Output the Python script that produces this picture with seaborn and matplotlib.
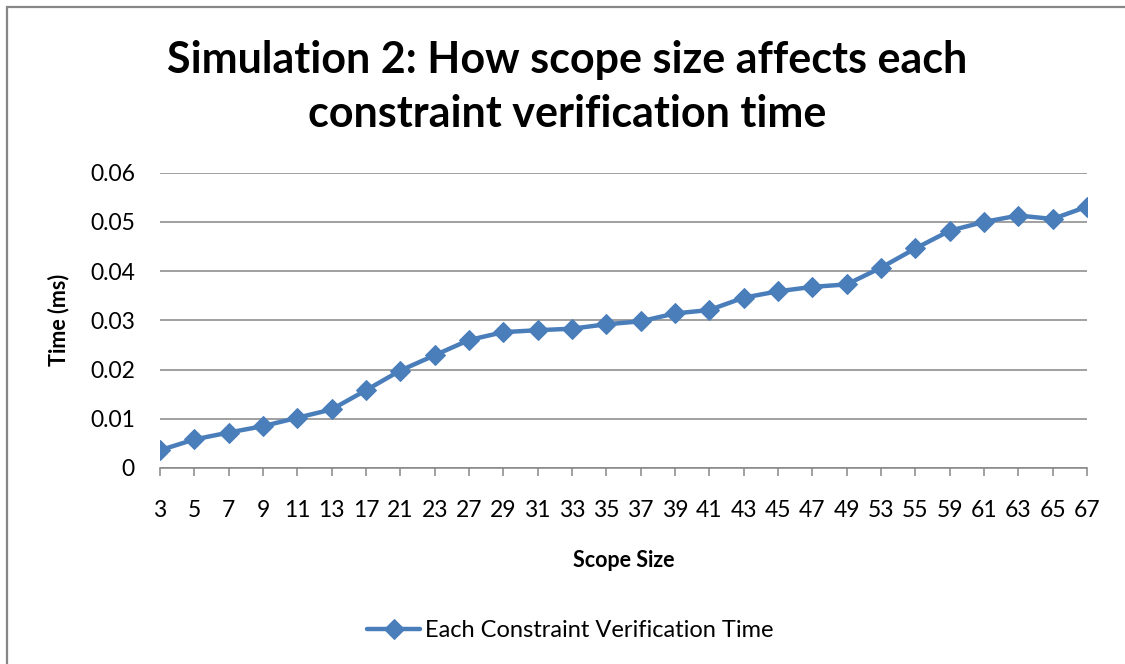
import matplotlib
matplotlib.use("Agg")
import matplotlib.pyplot as plt
import seaborn as sns
import pandas as pd
from matplotlib.patches import Rectangle

scope_sizes = [3, 5, 7, 9, 11, 13, 17, 21, 23, 27, 29, 31, 33, 35, 37, 39, 41,
               43, 45, 47, 49, 53, 55, 59, 61, 63, 65, 67]
verify_time = [0.0036, 0.0058, 0.0072, 0.0085, 0.0102, 0.0119, 0.0158, 0.0198,
               0.0229, 0.0260, 0.0276, 0.0280, 0.0283, 0.0292, 0.0298, 0.0314,
               0.0321, 0.0346, 0.0359, 0.0368, 0.0373, 0.0407, 0.0446, 0.0482,
               0.0500, 0.0513, 0.0506, 0.0531]
y_ticks = [0, 0.01, 0.02, 0.03, 0.04, 0.05, 0.06]
y_tick_labels = ["0", "0.01", "0.02", "0.03", "0.04", "0.05", "0.06"]
series_name = "Each Constraint Verification Time"

sns.set_theme(style="white")
plt.rcParams["font.family"] = ["Lato", "DejaVu Sans"]
plt.rcParams["text.color"] = "black"

df = pd.DataFrame({
    "pos": list(range(len(scope_sizes))),
    "time": verify_time,
    "series": [series_name] * len(scope_sizes),
})

fig = plt.figure(figsize=(11.25, 6.64), dpi=100)
ax = fig.add_axes([0.1422, 0.2952, 0.8240, 0.4447])

line_color = "#4A7EBB"
grid_color = "#868686"

sns.lineplot(data=df, x="pos", y="time", hue="series", palette=[line_color],
             marker="D", markersize=10.5, linewidth=3.2,
             markeredgecolor=line_color, ax=ax, legend=True)

ax.set_xlim(0, len(scope_sizes) - 1)
ax.set_ylim(0, 0.06)
ax.set_xticks(range(len(scope_sizes)))
ax.set_xticklabels([str(s) for s in scope_sizes], fontsize=16.5)
ax.set_yticks(y_ticks)
ax.set_yticklabels(y_tick_labels, fontsize=16.5)

ax.yaxis.grid(True, color=grid_color, linewidth=1.1)
ax.set_axisbelow(True)
for side in ["left", "right", "top"]:
    ax.spines[side].set_visible(False)
ax.spines["bottom"].set_color(grid_color)
ax.spines["bottom"].set_linewidth(1.1)
ax.tick_params(axis="x", direction="out", length=6, width=1.1,
               color=grid_color, pad=17, labelcolor="black", bottom=True)
ax.tick_params(axis="y", length=0, pad=18, labelcolor="black")

ax.set_xlabel("Scope Size", fontsize=15.5, fontweight="bold", labelpad=21,
              color="black")
ax.set_ylabel("Time (ms)", fontsize=15.5, fontweight="bold", labelpad=15,
              color="black")

fig.text(0.504, 0.869, "Simulation 2: How scope size affects each\nconstraint verification time",
         ha="center", va="center", fontsize=31, fontweight="bold",
         linespacing=1.45, color="black")

leg = ax.legend(loc="center", bbox_to_anchor=(0.507, 0.0497),
                bbox_transform=fig.transFigure, frameon=False,
                fontsize=17, handlelength=2.25, handletextpad=0.2)
for t in leg.get_texts():
    t.set_color("black")

fig.patches.append(Rectangle((6.5 / 1125, -0.05), 1.2, 1 - 6.5 / 664 + 0.05,
                             transform=fig.transFigure, fill=False,
                             edgecolor="#878787", linewidth=1.6))

fig.savefig("out.png", dpi=100, facecolor="white")
